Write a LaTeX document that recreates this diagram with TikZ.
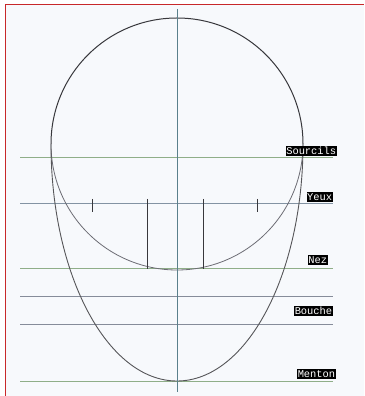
\documentclass[tikz,border=0pt]{standalone}
\usepackage{fontspec}
\setmonofont{Liberation Mono}
\definecolor{bgc}{HTML}{F7F9FC}
\definecolor{framec}{HTML}{C8282A}
\definecolor{greenl}{HTML}{8FAE88}
\definecolor{grayl}{HTML}{868C9A}
\definecolor{bluel}{HTML}{8393A3}
\definecolor{axisc}{HTML}{5A808C}
\definecolor{headc}{HTML}{38383C}
\definecolor{circc}{HTML}{6C6C74}
\tikzset{
  lbl/.style={fill=black, text=white, font=\ttfamily\fontsize{10.4}{10}\selectfont, inner sep=0.6pt, minimum height=10pt, anchor=east},
  gline/.style={draw=greenl, line width=1pt},
  pline/.style={draw=grayl, line width=1pt},
  bline/.style={draw=bluel, line width=1pt},
  eyemark/.style={draw=headc, line width=0.9pt}
}
\begin{document}
\begin{tikzpicture}[x=1pt,y=1pt]
\useasboundingbox (0,0) rectangle (364,396);
\fill[white] (0,0) rectangle (364,396);
\fill[bgc] (5,0) rectangle (364,391);
\draw[framec, line width=1pt] (5,0) -- (5,391) -- (364,391);
% horizontal guide lines
\draw[gline] (20,238) -- (333,238);
\draw[bline] (20,192) -- (333,192);
\draw[gline] (20,127) -- (333,127);
\draw[pline] (20,99) -- (333,99);
\draw[pline] (20,71) -- (333,71);
\draw[gline] (20,14) -- (333,14);
% construction circle (lower half lighter)
\draw[circc, line width=0.8pt] (303,252) arc[start angle=0, end angle=-180, radius=126];
% head outline: upper half circle + lower half ellipse
\draw[headc, line width=1pt] (303,252) arc[start angle=0, end angle=180, radius=126];
\draw[headc!85, line width=0.9pt] (51,252) arc[start angle=180, end angle=360, x radius=126, y radius=237];
% vertical axis
\draw[axisc, line width=1pt] (177,387) -- (177,4);
% eye marks
\draw[eyemark] (92,197) -- (92,184);
\draw[eyemark] (257,197) -- (257,184);
\draw[eyemark] (147,197) -- (147,127);
\draw[eyemark] (203,197) -- (203,127);
% labels
\node[lbl] (sourcils) at (337,245) {Sourcils};
\node[lbl] (yeux) at (333,199) {Yeux};
\node[lbl] (nez) at (328,136) {Nez};
\node[lbl] (bouche) at (333,85) {Bouche};
\node[lbl] (menton) at (336,21.5) {Menton};
\end{tikzpicture}
\end{document}
